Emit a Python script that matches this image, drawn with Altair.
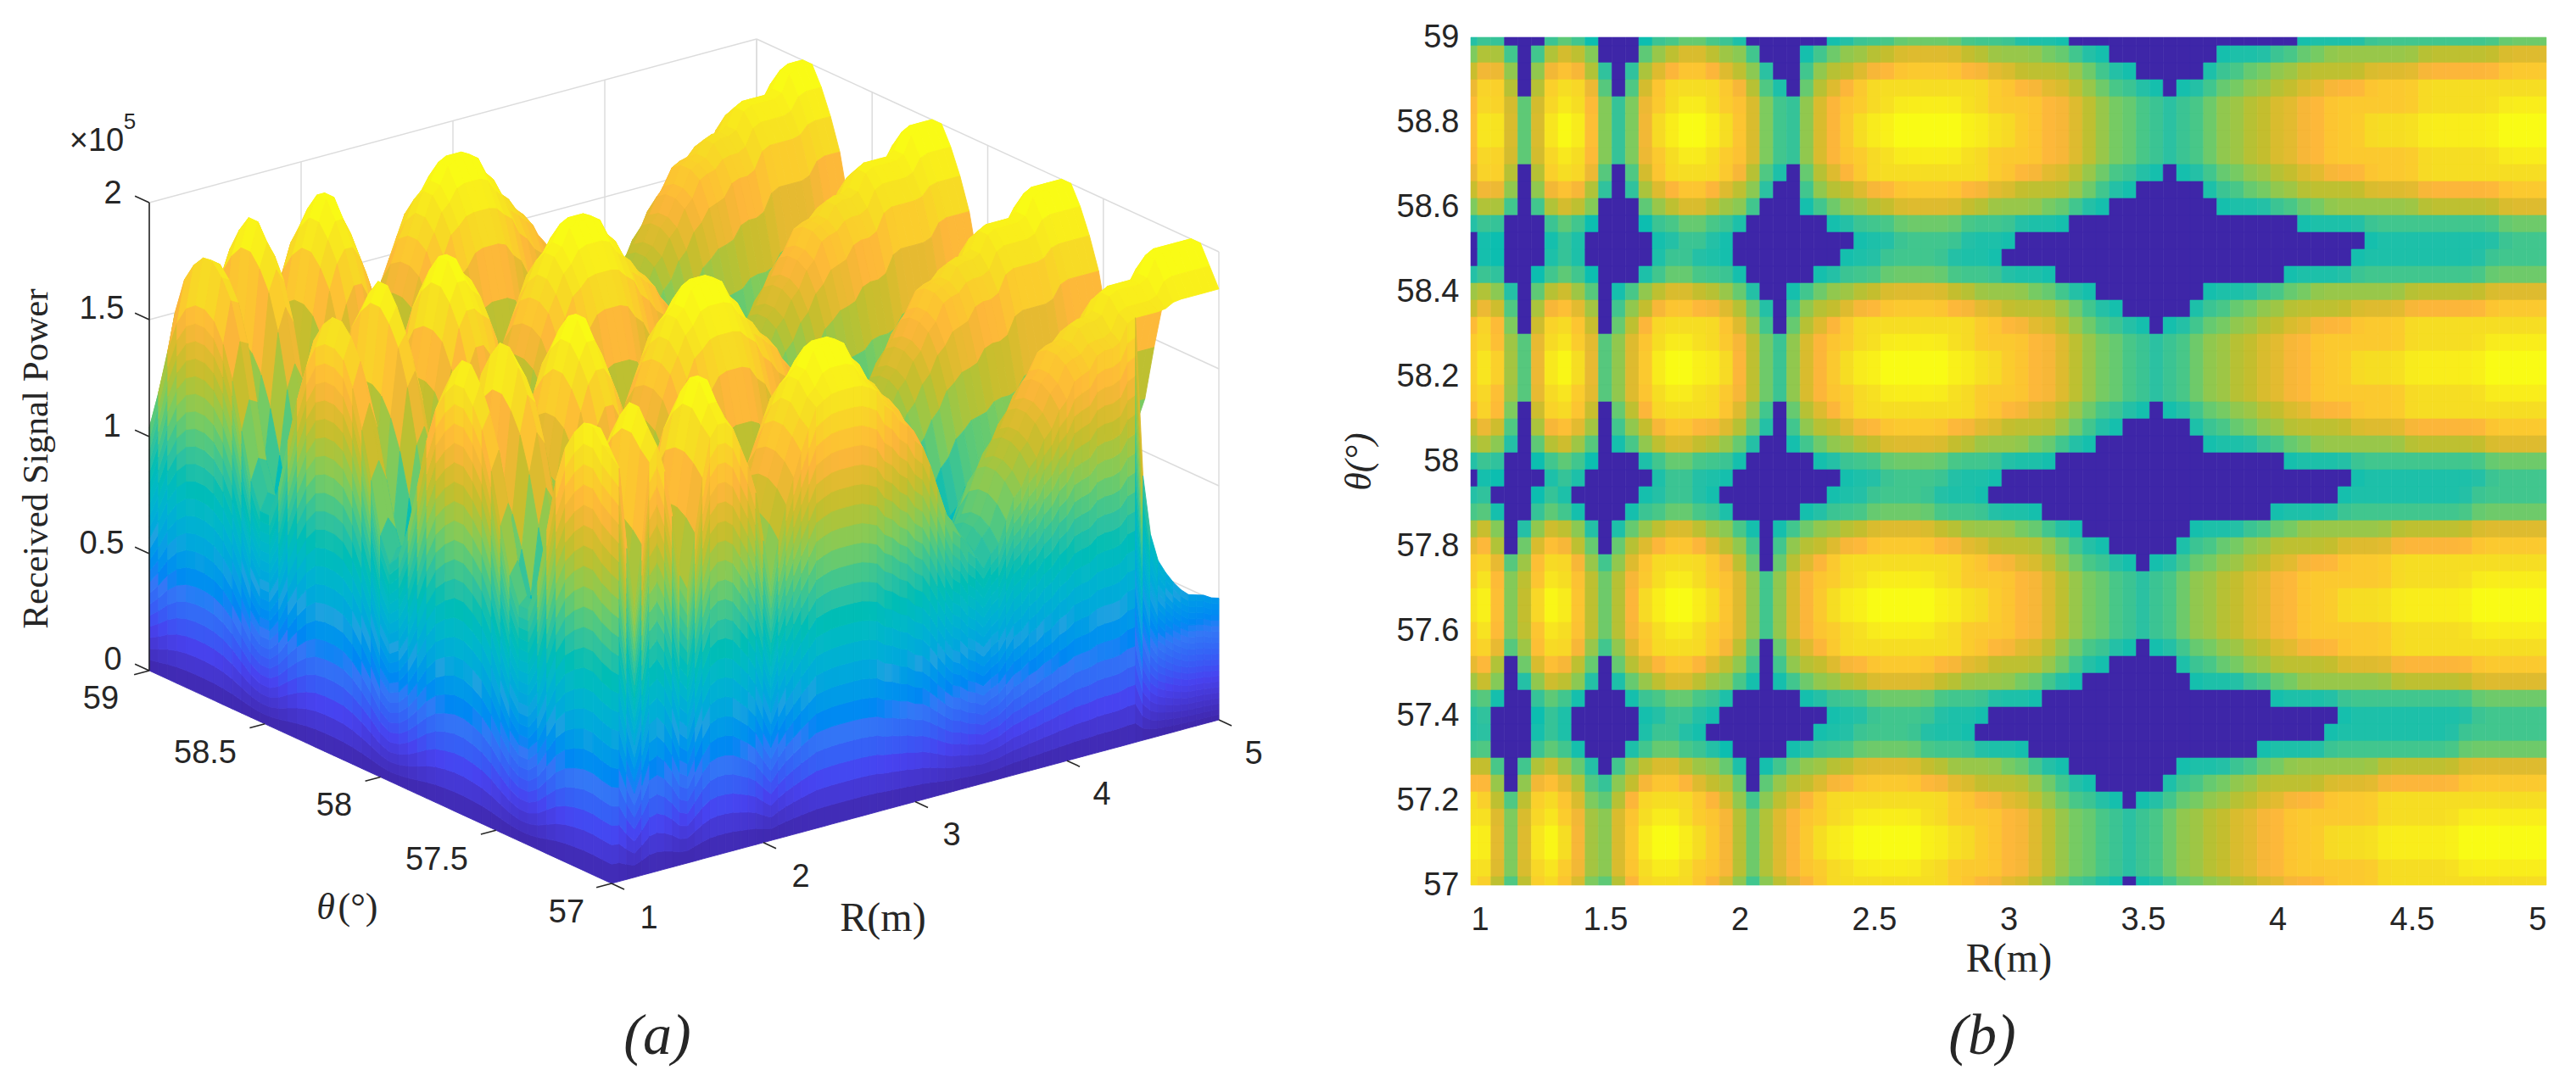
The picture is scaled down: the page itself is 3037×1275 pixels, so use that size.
import altair as alt

# Received power, in levels (0-9, a=10 ... j=19); rows run from theta=59 down to theta=57, columns from R=1 to R=5
POWER_ROWS = [
"9aa858aba9""6569aabbaa""986657899a""aabbbbbaaa""a999987766""6656667777""8899999aaa""aaaaaaabbb""b",
"bdda7adedc""878bcdeedc""ca8779abcc""ddeeeeeddc""cccbba9988""7777789999""aabbcccccc""cddddddeee""e",
"dffc8cfgfd""989defggfe""dc988acdde""ffgggggffe""eddddcba99""888889aabb""ccdddddeee""effffffggg""g",
"ehhd8dhhhf""a8aeghhhhg""fda98bdefg""hhhhhhhhhg""gffeedcbaa""99899abbcc""ddeefffggg""ghhhhhhhhh""h",
"fhhe9ehihg""b9bfghiihg""geba9cefgg""hhiiiiihhg""gggffedcbb""aa9aabccdd""eeffgggggg""ghhhhhhiii""i",
"fiie9eijig""b9bfhijjih""geba9cefgh""iijjjjjiih""hggffedcbb""aa9aabccdd""eeffggghhh""hiiiiiijjj""j",
"fiie9eijig""b9bfhijjih""geba9cefgh""iijjjjjiih""hggffedcbb""aa9aabccdd""eeffggghhh""hiiiiiijjj""j",
"fhhe9ehihg""b9bfghiihg""geba9cefgg""hhiiiiihhg""gggffedcbb""aa9aabccdd""eeffgggggg""ghhhhhhiii""i",
"ehhd8dhhhf""a8aeghhhhg""fda98bdefg""hhhhhhhhhg""gffeedcbaa""99899abbcc""ddeefffggg""ghhhhhhhhh""h",
"dffc8cfgfd""989defggfe""dc988acdde""ffgggggffe""eddddcba99""888889aabb""ccdddddeee""effffffggg""g",
"bdda7adedc""878bcdeedc""ca8779abcc""ddeeeeeddc""cccbba9988""7777789999""aabbcccccc""cddddddeee""e",
"9aa858aba9""6569aabbaa""986657899a""aabbbbbaaa""a999987766""6656667777""8899999aaa""aaaaaaabbb""b",
"8997479a98""545899aa99""8755467889""99aaaaa999""9888876655""5545556666""7788888999""9999999aaa""a",
"8996489a98""46789aa999""8654678899""9aaaaa9999""8888766555""5455566667""7888889999""999999aaaa""a",
"9aa759aba9""5789abbaaa""97657899aa""abbbbbaaaa""9999877666""6566677778""899999aaaa""aaaaaabbbb""b",
"cdc97bdecb""79acdeeddc""b9879abccd""deeeeeddcc""ccbba99887""777789999a""abbccccccc""ddddddeeee""e",
"dfea8dfged""8acdfggffe""db98acddef""fgggggffee""ddddcba998""88889aabbc""cdddddeeee""ffffffgggg""g",
"fhgb8ehhge""8bdfhhhhhg""eca8bdefgh""hhhhhhhhgg""ffeedcbaa9""9899abbccd""deefffgggg""hhhhhhhhhh""h",
"ghgc9fhigf""9ceghiihhg""fdb9cefggh""hiiiiihhgg""ggffedcbba""a9aabccdde""effggggggg""hhhhhhiiii""i",
"gihc9fijhf""9cegijjiih""fdb9cefghi""ijjjjjiihh""ggffedcbba""a9aabccdde""effggghhhh""iiiiiijjjj""j",
"gihc9fijhf""9cegijjiih""fdb9cefghi""ijjjjjiihh""ggffedcbba""a9aabccdde""effggghhhh""iiiiiijjjj""j",
"ghgc9fhigf""9ceghiihhg""fdb9cefggh""hiiiiihhgg""ggffedcbba""a9aabccdde""effggggggg""hhhhhhiiii""i",
"fhgb8ehhge""8bdfhhhhhg""eca8bdefgh""hhhhhhhhgg""ffeedcbaa9""9899abbccd""deefffgggg""hhhhhhhhhh""h",
"dfea8dfged""8acdfggffe""db98acddef""fgggggffee""ddddcba998""88889aabbc""cdddddeeee""ffffffgggg""g",
"cdc97bdecb""79acdeeddc""b9879abccd""deeeeeddcc""ccbba99887""777789999a""abbccccccc""ddddddeeee""e",
"9aa759aba9""5789abbaaa""97657899aa""abbbbbaaaa""9999877666""6566677778""899999aaaa""aaaaaabbbb""b",
"8996489a98""46789aa999""8654678899""9aaaaa9999""8888766555""5455566667""7888889999""999999aaaa""a",
"9a8569a986""56899aa998""7646788999""aaaaa99998""8887665555""4555666677""8888899999""99999aaaaa""a",
"ab967aba97""679aabbaa9""8757899aaa""bbbbbaaaa9""9998776666""5666777788""99999aaaaa""aaaaabbbbb""b",
"cec79cedc9""79bcdeedcc""a979abccdd""eeeeeddccc""cbba998877""77789999aa""bbcccccccd""dddddeeeee""e",
"egd8begfdb""8bdefggfed""ca8acddeff""gggggffeed""dddcba9988""8889aabbcc""dddddeeeef""fffffggggg""g",
"ghf9cghhfc""9ceghhhhgf""db8bdefghh""hhhhhhhggf""feedcbaa99""899abbccdd""eefffggggh""hhhhhhhhhh""h",
"gigadgihgd""adfghiihgg""ec9cefgghh""iiiiihhggg""gffedcbbaa""9aabccddee""ffgggggggh""hhhhhiiiii""i",
"hjgadhjigd""adfhijjihg""ec9cefghii""jjjjjiihhg""gffedcbbaa""9aabccddee""ffggghhhhi""iiiiijjjjj""j",
"hjgadhjigd""adfhijjihg""ec9cefghii""jjjjjiihhg""gffedcbbaa""9aabccddee""ffggghhhhi""iiiiijjjjj""j",
"gigadgihgd""adfghiihgg""ec9cefgghh""iiiiihhggg""gffedcbbaa""9aabccddee""ffgggggggh""hhhhhiiiii""i",
"ghf9cghhfc""9ceghhhhgf""db8bdefghh""hhhhhhhggf""feedcbaa99""899abbccdd""eefffggggh""hhhhhhhhhh""h",
"egd8begfdb""8bdefggfed""ca8acddeff""gggggffeed""dddcba9988""8889aabbcc""dddddeeeef""fffffggggg""g",
"cec79cedc9""79bcdeedcc""a979abccdd""eeeeeddccc""cbba998877""77789999aa""bbcccccccd""dddddeeeee""e",
"ab967aba97""679aabbaa9""8757899aaa""bbbbbaaaa9""9998776666""5666777788""99999aaaaa""aaaaabbbbb""b",
"9a8569a986""56899aa998""7646788999""aaaaa99998""8887665555""4555666677""8888899999""99999aaaaa""a",
"9a7579a986""5789aa9988""656788999a""aaaa999988""8876655554""5556666778""8888999999""9999aaaaaa""a",
"ab868aba97""689abbaa99""767899aaab""bbbbaaaa99""9987766665""6667777889""9999aaaaaa""aaaabbbbbb""b",
"dea7adecb9""8acdeedccb""979abccdde""eeeeddcccc""bba9988777""7789999aab""bcccccccdd""ddddeeeeee""e",
"fgc8cfgeda""9cdfggfedd""b8bcddeffg""ggggffeedd""ddcba99888""889aabbccd""ddddeeeeff""ffffgggggg""g",
"hhd9dhhgeb""adfhhhhgfe""c9cdefghhh""hhhhhhggff""eedcbaa998""99abbccdde""efffgggghh""hhhhhhhhhh""h",
"hieaehigfc""beghiihggf""dadefgghhi""iiiihhgggg""ffedcbbaa9""aabccddeef""fggggggghh""hhhhiiiiii""i",
"ijeaeijhfc""begijjihgf""dadefghiij""jjjjiihhgg""ffedcbbaa9""aabccddeef""fggghhhhii""iiiijjjjjj""j",
"ijeaeijhfc""begijjihgf""dadefghiij""jjjjiihhgg""ffedcbbaa9""aabccddeef""fggghhhhii""iiiijjjjjj""j",
"hieaehigfc""beghiihggf""dadefgghhi""iiiihhgggg""ffedcbbaa9""aabccddeef""fggggggghh""hhhhiiiiii""i",
"hhd9dhhgeb""adfhhhhgfe""c9cdefghhh""hhhhhhggff""eedcbaa998""99abbccdde""efffgggghh""hhhhhhhhhh""h",
]
LEVEL_STEP = 1.95 / 19 * 1.04   # x10^5 per level
HEAT_STEP = 1.95 / 19 * 1.01
HEAT_FLOOR = 9                  # levels under this are shown dark in panel (b)
HEAT_EDGE = 0.9                 # power at the edge of the shown lobes

SKIRT_R = [4.5, 4.55, 4.6, 4.65, 4.7, 4.75, 4.8, 4.85, 4.9, 4.95, 5.0]
SKIRT_CAP = [1.13, 0.87, 0.75, 0.69, 0.64, 0.6, 0.57, 0.56, 0.55, 0.53, 0.52]

Z_TICKS = [0, 0.5, 1, 1.5, 2]
THETA_TICKS_A = [59, 58.5, 58, 57.5, 57]
R_TICKS_A = [1, 2, 3, 4, 5]
R_TICKS_B = [1, 1.5, 2, 2.5, 3, 3.5, 4, 4.5, 5]
THETA_TICKS_B = [57, 57.2, 57.4, 57.6, 57.8, 58, 58.2, 58.4, 58.6, 58.8, 59]
PARULA = ["#3E26A8", "#4743F0", "#3478F6", "#1FA2E0", "#05B8C6", "#2EC1A0",
          "#7CCB5F", "#C4BE2E", "#FDB63B", "#F6DC24", "#F9FB15"]
TICK_COLOR = "#262626"
SANS = "Liberation Sans"
SERIF = "Liberation Serif"

W, H = 1500, 1225
OFF_X, OFF_Y = 8, 43
levels = [[int(c, 36) for c in row] for row in POWER_ROWS]
n_rows, n_cols = len(levels), len(levels[0])
R_AT = [1 + 0.05 * j for j in range(n_cols)]
TH_AT = [59 - 0.04 * i for i in range(n_rows)]


def softened(i, j):
    # evens out the whole-level steps of the readings
    total = 0
    for di, wi in ((-1, 1), (0, 2), (1, 1)):
        for dj, wj in ((-1, 1), (0, 4), (1, 1)):
            total += wi * wj * levels[min(max(i + di, 0), n_rows - 1)][min(max(j + dj, 0), n_cols - 1)]
    return total / 24 * LEVEL_STEP


def softened_along_r(i, j):
    row = levels[i]
    return (row[max(j - 1, 0)] + 4 * row[j] + row[min(j + 1, n_cols - 1)]) / 6 * HEAT_STEP


power = [[softened(i, j) for j in range(n_cols)] for i in range(n_rows)]


def proj(r, th, z):
    return (round(721 + (r - 1) * 179 - (th - 57) * 272.5 - OFF_X, 1),
            round(1041 - (r - 1) * 48.25 - (th - 57) * 125.5 - z * 276 - OFF_Y, 1))


def quad(pts, z):
    ring = [list(p) for p in pts] + [list(pts[0])]
    return {"type": "Feature", "properties": {"z": round(z, 3)},
            "geometry": {"type": "Polygon", "coordinates": [ring]}}


features = []
for i in range(n_rows - 1):
    for j in range(n_cols - 2, -1, -1):
        zs = [power[i][j], power[i][j + 1], power[i + 1][j + 1], power[i + 1][j]]
        features.append(quad([proj(R_AT[j], TH_AT[i], zs[0]), proj(R_AT[j + 1], TH_AT[i], zs[1]),
                              proj(R_AT[j + 1], TH_AT[i + 1], zs[2]), proj(R_AT[j], TH_AT[i + 1], zs[3])],
                             sum(zs) / 4))
BANDS = 22


def skirt(r0, t0, a, r1, t1, b):
    for k in range(BANDS):
        f0, f1 = k / BANDS, (k + 1) / BANDS
        features.append(quad([proj(r0, t0, a * f0), proj(r1, t1, b * f0),
                              proj(r1, t1, b * f1), proj(r0, t0, a * f1)],
                             (a + b) / 2 * (f0 + f1) / 2))


# skirt under the R=1 edge
for i in range(n_rows - 1):
    skirt(1, TH_AT[i], power[i][0], 1, TH_AT[i + 1], power[i + 1][0])
# skirt under the theta=57 edge
caps = dict(zip([round(r, 2) for r in SKIRT_R], SKIRT_CAP))
last = power[-1]
for j in range(n_cols - 1):
    skirt(R_AT[j], 57, min(last[j], caps.get(round(R_AT[j], 2), 9)),
          R_AT[j + 1], 57, min(last[j + 1], caps.get(round(R_AT[j + 1], 2), 9)))

color_scale = alt.Scale(domain=[i * 0.195 for i in range(11)], range=PARULA, clamp=True)
px = alt.Scale(domain=[0, W], nice=False, zero=False)
py = alt.Scale(domain=[H, 0], nice=False, zero=False)


def seg(r0, t0, z0, r1, t1, z1):
    a, b = proj(r0, t0, z0), proj(r1, t1, z1)
    return {"x": a[0], "y": a[1], "x2": b[0], "y2": b[1]}


grid = []
for z in Z_TICKS:
    grid.append(seg(1, 59, z, 5, 59, z))
    grid.append(seg(5, 59, z, 5, 57, z))
for r in R_TICKS_A:
    grid.append(seg(r, 59, 0, r, 59, 2))
for t in THETA_TICKS_A:
    grid.append(seg(5, t, 0, 5, t, 2))

axis_lines = [seg(1, 59, 0, 1, 59, 2)]
for z in Z_TICKS:
    axis_lines.append(seg(1, 59, z, 1, 59.062, z))
for t in THETA_TICKS_A:
    axis_lines.append(seg(1, t, 0, 0.9, t, 0))
for r in R_TICKS_A:
    axis_lines.append(seg(r, 57, 0, r, 56.945, 0))


def rule_layer(rows, color, width):
    return alt.Chart(alt.Data(values=rows)).mark_rule(color=color, strokeWidth=width).encode(
        x=alt.X("x:Q", scale=px, axis=None), y=alt.Y("y:Q", scale=py, axis=None),
        x2="x2:Q", y2="y2:Q")


def text_layer(rows, font, size, **kw):
    shifted = [{"x": r["x"] - OFF_X, "y": r["y"] - OFF_Y, "t": r["t"]} for r in rows]
    return alt.Chart(alt.Data(values=shifted)).mark_text(font=font, fontSize=size, color=TICK_COLOR, **kw).encode(
        x=alt.X("x:Q", scale=px, axis=None), y=alt.Y("y:Q", scale=py, axis=None), text="t:N")


surface = alt.Chart(alt.Data(values=features)).mark_geoshape(strokeWidth=0.9).encode(
    fill=alt.Fill("properties.z:Q", scale=color_scale, legend=None),
    stroke=alt.Stroke("properties.z:Q", scale=color_scale, legend=None),
).project(type="identity", scale=1, translate=[0, 0])

z_labels = [{"x": 133, "y": 778, "t": "0"}, {"x": 120, "y": 641, "t": "0.5"}, {"x": 132, "y": 503, "t": "1"},
            {"x": 120, "y": 364, "t": "1.5"}, {"x": 133, "y": 228, "t": "2"}]
th_labels = [{"x": 119, "y": 824, "t": "59"}, {"x": 242, "y": 888, "t": "58.5"}, {"x": 394, "y": 950, "t": "58"},
             {"x": 515, "y": 1014, "t": "57.5"}, {"x": 668, "y": 1076, "t": "57"}]
r_labels = [{"x": 765, "y": 1083, "t": "1"}, {"x": 944, "y": 1034, "t": "2"}, {"x": 1122, "y": 985, "t": "3"},
            {"x": 1299, "y": 937, "t": "4"}, {"x": 1478, "y": 889, "t": "5"}]

left = alt.layer(
    rule_layer(grid, "#dcdcdc", 1.5),
    surface,
    rule_layer(axis_lines, TICK_COLOR, 1.6),
    text_layer(z_labels + th_labels + r_labels, SANS, 38),
    text_layer([{"x": 114, "y": 166, "t": "×10"}], SANS, 38),
    text_layer([{"x": 153, "y": 143, "t": "5"}], SANS, 26),
    text_layer([{"x": 43, "y": 540, "t": "Received Signal Power"}], SERIF, 43, angle=270),
    text_layer([{"x": 384, "y": 1070, "t": "θ"}], SERIF, 44, fontStyle="italic"),
    text_layer([{"x": 422, "y": 1070, "t": "(°)"}], SERIF, 44),
    text_layer([{"x": 1041, "y": 1083, "t": "R(m)"}], SERIF, 48),
    text_layer([{"x": 775, "y": 1222, "t": "(a)"}], SERIF, 68, fontStyle="italic"),
).properties(width=W, height=H)

cells = []
for i in range(n_rows):
    for j in range(n_cols):
        cells.append({
            "r0": round(max(1, R_AT[j] - 0.025), 3), "r1": round(min(5, R_AT[j] + 0.025), 3),
            "t0": round(max(57, TH_AT[i] - 0.02), 3), "t1": round(min(59, TH_AT[i] + 0.02), 3),
            "p": round(max(softened_along_r(i, j), HEAT_EDGE), 3) if levels[i][j] >= HEAT_FLOOR else 0,
        })

heat = alt.Chart(alt.Data(values=cells)).mark_rect(strokeWidth=0.6).encode(
    x=alt.X("r0:Q", scale=alt.Scale(domain=[1, 5], nice=False, zero=False),
            axis=alt.Axis(values=R_TICKS_B, format="~g", title="R(m)", grid=False, ticks=False, domain=False,
                          labelFont=SANS, labelFontSize=38, labelColor=TICK_COLOR, labelPadding=22,
                          titleFont=SERIF, titleFontSize=48, titleFontWeight="normal", titleColor=TICK_COLOR,
                          titlePadding=3)),
    x2="r1:Q",
    y=alt.Y("t0:Q", scale=alt.Scale(domain=[57, 59], nice=False, zero=False),
            axis=alt.Axis(values=THETA_TICKS_B, format="~g", title="θ(°)", grid=False, ticks=False, domain=False,
                          labelFont=SANS, labelFontSize=38, labelColor=TICK_COLOR, labelPadding=14,
                          titleFont=SERIF, titleFontSize=44, titleFontWeight="normal", titleColor=TICK_COLOR,
                          titleFontStyle="italic", titlePadding=22)),
    y2="t1:Q",
    fill=alt.Fill("p:Q", scale=color_scale, legend=None),
    stroke=alt.Stroke("p:Q", scale=color_scale, legend=None),
)

caption_b = alt.Chart(alt.Data(values=[{"t": "(b)"}])).mark_text(
    font=SERIF, fontSize=68, fontStyle="italic", color=TICK_COLOR).encode(
    x=alt.value(2334 - 1731), y=alt.value(1222 - 43), text="t:N")
# blank anchor that fixes how far the panel sits from the page's top and left
anchor = alt.Chart(alt.Data(values=[{"t": 0}])).mark_rule(color="white", opacity=0.01, strokeWidth=1).encode(
    x=alt.value(-225), y=alt.value(-35), x2=alt.value(-224), y2=alt.value(-34))

right = alt.layer(heat, caption_b, anchor).properties(width=1268, height=1000)

chart = alt.hconcat(left, right, spacing=0).properties(padding=0).configure_view(stroke=None).resolve_scale(
    x="independent", y="independent", fill="independent", stroke="independent")
chart.save("out.html", embed_options={"renderer": "svg", "actions": False})
